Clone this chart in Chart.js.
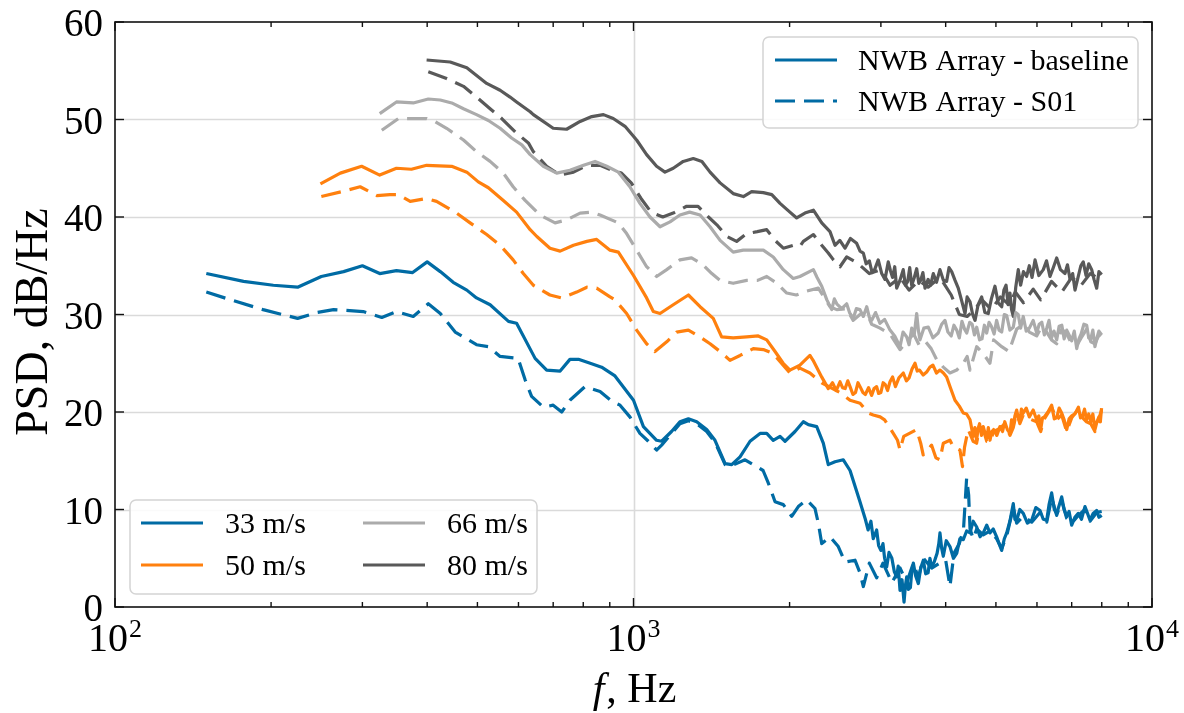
<!DOCTYPE html>
<html>
<head>
<meta charset="utf-8">
<script src="https://cdn.jsdelivr.net/npm/chart.js@4/dist/chart.umd.min.js"></script>
<style>
  html, body { margin: 0; padding: 0; background: #fff; }
</style>
</head>
<body>
<canvas id="psdChart" width="1184" height="713"></canvas>
<script>
// ============================================================================
// Data (frequency in Hz, PSD in dB/Hz)
// ============================================================================
const speedLabels = ['33 m/s', '50 m/s', '66 m/s', '80 m/s'];
const caseLabels = ['NWB Array - baseline', 'NWB Array - S01'];
const speedColors = ['#006BA4', '#FF800E', '#ABABAB', '#595959'];
const yTicks = [0, 10, 20, 30, 40, 50, 60];
const xMajorTicks = [100, 1000, 10000];
const xMinorTicks = [200, 300, 400, 500, 600, 700, 800, 900, 2000, 3000, 4000, 5000, 6000, 7000, 8000, 9000];

const f33Base = [150,177,202,225,250,276,300,324,349,375,400,424,449,477,498,529,574,595,646,680,722,754,783,825,868,921,1000,1045,1108,1133,1184,1229,1276,1324,1384,1436,1502,1547,1605,1678,1754,1807,1860,1917,1960,2049,2126,2174,2256,2323,2375,2447,2539,2616,
    2734,2800,2834,2870,2900,2944,2970,3000,3028,3050,3078,3110,3150,3185,3218,3240,3266,3295,3325,3345,3365,3390,3420,3440,3465,3500,3543,3580,3622,3660,3700,3730,3760,3800,3850,3880,3900,3930,3958,4010,4077,4140,4201,4260,4325,4390,4457,4520,4591,4660,4727,4800,4869,4940,5016,5070,5130,5190,5245,5320,5401,5440,5483,5560,5646,5750,5861,5970,6081,6170,6265,6330,6405,6480,6549,6620,6696,6770,6847,6920,7000,7100,7208,7310,7425,7510,7593,7700,7822,7900,7998];
const psd33Base = [34.2,33.4,33.0,32.8,33.9,34.4,35.0,34.2,34.5,34.3,35.4,34.4,33.3,32.5,31.7,31.0,29.3,29.1,25.5,24.3,24.2,25.4,25.4,25.0,24.6,23.7,21.2,18.5,17.1,17.0,18.0,19.0,19.3,19.0,18.2,17.1,14.7,14.6,15.4,17.0,17.8,17.8,17.1,17.5,17.0,18.0,19.0,18.7,18.5,16.8,14.6,14.9,15.1,14.0,
    10.8,9.0,7.9,8.8,7.0,7.9,6.3,5.8,6.5,5.0,4.1,5.6,5.0,3.6,3.1,4.2,1.7,2.8,0.5,2.2,3.1,1.8,2.0,3.6,4.5,3.2,2.4,4.0,4.8,3.4,3.5,5.0,4.1,4.6,5.5,6.5,7.6,6.0,5.2,6.8,6.2,5.0,5.5,7.0,6.9,7.8,7.6,8.8,8.2,7.2,7.6,8.4,7.6,8.0,7.2,6.5,5.8,7.0,7.6,8.8,10.6,9.0,8.9,10.0,9.6,8.6,8.9,10.2,9.9,9.0,8.9,10.5,11.7,10.0,9.6,10.4,11.3,10.0,9.3,9.8,8.4,9.2,9.6,9.0,10.3,9.6,8.9,9.6,9.9,9.2,9.4];

const f33S01 = [150,165,193,225,245,264,301,327,349,376,402,424,453,498,525,553,599,618,636,670,700,727,754,806,862,908,942,984,1029,1068,1108,1133,1184,1229,1276,1324,1384,1436,1502,1547,1641,1778,1820,1875,1945,2019,2079,2158,2239,2272,2307,2393,2483,2558,2674,2734,2775,2850,2944,3028,3150,3266,3365,3465,3543,3622,3760,3900,4000,4077,4150,4250,4330,4390,4430,4457,4520,4591,4727,4869,5016,5130,5245,5401,5483,5646,5861,6081,6265,6405,6549,6696,6847,7000,7208,7425,7593,7822,7998];
const psd33S01 = [32.3,31.6,30.5,29.6,30.2,30.5,30.3,29.7,30.3,29.8,31.1,30.1,28.2,26.9,26.7,25.7,25.5,23.3,21.6,20.5,20.7,20.0,21.2,22.6,22.1,21.1,20.7,19.5,17.8,17.0,16.1,16.6,17.8,18.8,19.1,18.8,18.0,16.9,14.6,14.5,15.1,14.0,12.7,10.8,10.5,9.3,10.3,11.0,10.1,8.6,6.5,7.2,6.2,4.6,4.8,3.5,2.1,4.5,3.0,4.5,2.5,4.0,2.5,4.5,3.0,5.0,4.0,4.5,4.8,2.1,5.5,6.5,8.0,13.2,11.5,8.0,7.0,8.0,7.4,7.8,7.0,6.0,7.3,10.2,8.6,9.3,8.7,9.7,8.7,11.2,9.4,10.9,9.1,8.6,9.4,10.0,8.8,9.7,9.8];

const f50Base = [249,272,299,324,349,373,399,446,477,502,525,561,595,632,651,690,722,766,813,849,901,935,1000,1060,1092,1125,1193,1276,1344,1425,1479,1557,1653,1740,1807,1875,1944,2003,2094,2189,2220,2306,
    2375,2420,2460,2502,2530,2560,2590,2616,2650,2680,2710,2735,2770,2800,2840,2879,2910,2944,2970,3000,3030,3060,3090,3124,3160,3200,3250,3314,3360,3400,3445,3491,3525,3560,3620,3676,3730,3780,3840,3900,3960,4017,4090,4169,4250,4325,4390,4457,4490,4520,4555,4589,4620,4650,4690,4727,4765,4800,4835,4870,4910,4950,5020,5090,5150,5200,5260,5322,5360,5400,5440,5483,5520,5560,5600,5646,5720,5800,5900,5990,6050,6100,6150,6200,6300,6403,6480,6550,6620,6696,6770,6847,6920,7000,7100,7212,7280,7350,7410,7477,7550,7620,7690,7762,7830,7900,7950,7993];
const psd50Base = [43.4,44.5,45.2,44.3,45.0,44.9,45.3,45.2,44.6,43.6,43.0,41.7,40.5,38.7,38.0,36.8,36.5,37.1,37.5,37.7,36.6,36.4,34.0,31.7,30.3,30.1,31.0,32.0,30.8,29.6,27.7,27.6,27.7,27.8,27.4,26.2,25.0,24.3,24.8,25.8,25.3,23.6,
    22.4,23.0,22.2,23.1,22.5,22.4,23.2,22.6,21.8,22.0,23.0,22.6,22.0,21.8,22.5,21.7,22.4,22.6,21.9,22.0,23.0,22.8,22.2,23.1,23.6,22.6,23.5,24.0,23.2,23.5,24.4,25.0,24.2,24.3,23.8,24.1,24.6,24.8,24.0,24.3,24.0,23.6,22.4,21.2,20.6,19.9,19.8,19.2,18.3,17.5,18.4,17.1,18.3,18.8,17.6,18.5,17.8,17.3,18.4,17.1,18.0,18.2,17.6,18.5,18.0,19.0,18.2,17.8,19.2,18.6,19.6,20.2,19.4,19.0,20.3,19.9,20.4,19.5,20.2,19.2,19.6,18.2,19.4,19.5,20.0,20.7,19.3,19.4,20.4,19.9,19.2,18.2,19.3,19.6,19.8,20.5,19.4,19.6,20.3,19.2,19.8,19.0,19.8,18.2,19.0,19.5,19.0,20.4];

const f50S01 = [250,274,297,320,339,352,371,399,417,456,484,521,553,586,613,641,690,727,777,813,849,901,921,970,1014,1060,1100,1159,1211,1276,1344,1405,1469,1535,1605,1702,1780,1860,1944,2003,2094,2189,2306,2400,2502,2616,2735,2836,2900,2990,3050,3170,3230,3266,3320,3516,3580,3620,3758,3830,3900,3958,4077,4140,4262,4310,4350,4420,4520,4589,4650,4727,4800,4870,4950,5090,5200,5322,5400,5483,5560,5646,5800,5990,6100,6200,6403,6550,6696,6847,7000,7212,7350,7477,7620,7762,7900,7993];
const psd50S01 = [42.1,42.6,43.1,42.2,42.3,42.3,41.6,41.9,41.6,40.4,39.4,38.2,37.1,35.6,34.2,33.0,32.0,31.7,32.3,32.8,32.7,31.8,31.5,30.1,28.4,27.0,26.2,27.2,28.2,28.4,27.7,27.0,26.2,25.3,25.8,26.5,26.4,26.0,24.8,24.0,24.5,24.0,23.0,22.5,22.0,21.2,20.9,19.9,19.7,19.5,19.2,17.8,17.1,16.1,17.5,18.2,16.8,15.6,16.6,15.3,15.1,16.8,17.1,16.4,16.1,14.4,16.4,18.2,17.0,16.8,18.5,18.2,17.0,16.9,18.0,18.3,18.8,17.6,18.4,20.0,18.8,19.7,19.3,19.0,18.0,19.3,20.5,19.2,19.7,18.0,19.4,20.3,19.4,19.0,18.8,18.0,19.3,20.2];

const f66Base = [324,349,376,402,424,446,470,498,525,553,582,609,632,670,711,754,801,843,888,935,984,1029,1076,1125,1176,1229,1283,1344,1405,1469,1557,1628,1702,1780,1860,1945,2033,2094,
    2223,2260,2307,2360,2412,2440,2466,2520,2577,2610,2653,2690,2734,2775,2817,2850,2880,2930,2988,3050,3124,3190,3266,3310,3365,3400,3440,3480,3517,3545,3569,3630,3703,3780,3870,3930,3988,4040,4100,4150,4201,4250,4300,4350,4392,4450,4500,4545,4591,4650,4700,4750,4798,4850,4900,4960,5016,5070,5130,5190,5245,5320,5401,5460,5520,5580,5646,5720,5800,5900,5992,6060,6130,6200,6265,6330,6400,6470,6549,6620,6700,6770,6847,6920,7000,7080,7158,7230,7300,7390,7482,7550,7620,7690,7762,7830,7900,7998];
const psd66Base = [50.6,51.8,51.7,52.1,52.0,51.7,51.1,50.5,49.9,49.1,48.1,47.4,46.4,45.2,44.5,44.8,45.3,45.7,45.2,44.6,43.1,41.4,40.0,39.0,39.5,40.2,40.5,40.2,39.0,37.6,36.4,36.6,36.6,36.6,35.9,34.6,33.7,33.9,
    34.6,33.8,32.9,31.5,30.5,31.6,31.1,30.6,31.1,30.2,29.6,30.6,30.5,29.8,30.8,29.7,29.4,30.2,29.1,29.5,28.4,27.8,26.7,28.2,27.7,26.9,28.6,28.0,30.1,28.3,27.4,28.6,28.7,27.6,28.1,29.0,29.4,28.2,27.8,28.9,28.4,27.6,29.3,28.5,28.1,29.2,29.0,27.9,28.7,27.4,27.5,28.9,28.1,29.2,28.8,28.0,29.4,28.4,28.2,30.0,29.9,28.4,28.7,30.2,30.0,28.6,29.8,28.3,28.6,29.4,28.1,29.0,29.2,27.9,28.6,29.4,27.6,28.3,27.4,28.8,28.9,27.5,28.4,27.9,27.3,28.3,26.5,27.5,28.0,29.0,28.9,27.6,27.5,28.4,26.7,27.6,28.3,27.9];

const f66S01 = [327,352,376,399,414,436,470,498,529,561,586,618,660,706,743,789,831,862,935,970,1014,1060,1108,1159,1229,1294,1355,1416,1469,1557,1653,1735,1807,1890,1975,2060,2158,2272,2393,2466,2577,2653,2734,2817,2880,2988,3124,3266,3365,3470,3560,3660,3750,3850,3958,4077,4201,4325,4400,4457,4591,4727,4869,4950,5130,5300,5483,5646,5800,5992,6130,6265,6400,6549,6700,6847,7000,7158,7300,7482,7620,7762,7900,7998];
const psd66S01 = [48.9,50.1,50.1,50.1,49.8,49.1,47.9,46.7,45.7,44.5,43.1,41.7,40.2,39.4,39.7,40.4,40.5,40.2,39.4,38.3,36.6,34.9,33.9,34.6,35.6,35.8,35.2,34.2,33.5,33.2,33.5,33.5,33.9,33.2,32.2,32.0,32.4,32.7,30.8,30.5,30.6,29.4,30.0,30.2,29.0,28.6,28.0,26.4,27.2,28.0,26.8,27.2,26.5,25.3,24.6,24.0,24.3,25.0,25.7,24.3,26.7,26.0,25.0,27.4,26.7,26.2,28.5,29.0,28.2,27.8,28.8,28.2,27.4,27.0,28.5,28.0,27.0,26.8,27.6,28.5,27.2,27.0,27.9,27.6];

const f80Base = [399,443,477,521,553,578,595,632,641,700,743,789,831,875,914,963,1014,1060,1108,1150,1193,1247,1304,1355,1405,1469,1557,1629,1690,1780,1848,1917,2003,2064,2141,2223,2307,2393,
    2447,2500,2558,2620,2694,2735,2775,2810,2850,2885,2923,2965,3011,3055,3100,3130,3160,3190,3218,3265,3313,3345,3380,3410,3440,3480,3517,3550,3580,3615,3650,3700,3740,3786,3840,3900,3960,4017,4060,4108,4170,4230,4290,4359,4400,4457,4510,4557,4620,4694,4760,4833,4900,4979,5050,5130,5180,5230,5280,5322,5360,5401,5460,5522,5580,5650,5731,5800,5870,5949,6050,6171,6260,6357,6450,6549,6660,6795,6870,6950,7030,7104,7200,7290,7369,7460,7550,7650,7730,7822,7900,7998];
const psd80Base = [56.1,55.9,55.3,53.7,53.0,52.3,51.8,50.8,50.5,49.1,49.0,49.8,50.3,50.5,50.1,49.3,47.9,46.4,45.2,44.6,45.0,45.7,46.0,45.7,44.6,43.5,42.4,42.1,42.6,42.5,42.3,41.4,40.5,39.9,40.4,40.7,39.4,38.5,
    37.1,37.6,36.8,37.8,37.3,36.5,36.3,35.2,35.5,34.3,34.7,35.6,34.2,33.6,35.4,34.5,33.8,34.9,32.7,33.5,34.6,33.0,33.4,34.8,33.0,33.8,34.7,33.2,33.5,34.3,32.7,33.6,33.0,34.2,33.3,34.6,33.5,33.4,34.8,34.4,33.5,32.7,31.5,30.1,31.8,31.3,30.0,29.4,31.0,31.8,30.2,30.1,31.6,32.9,31.2,30.8,32.5,33.0,31.0,32.2,30.5,29.8,32.8,34.6,33.0,34.4,33.9,35.0,33.8,35.6,34.0,34.6,35.5,33.9,34.8,35.8,34.6,34.2,35.1,33.6,34.2,32.5,33.8,35.0,35.4,34.0,35.2,34.6,33.6,32.7,34.4,34.1];

const f80S01 = [402,436,470,498,529,557,595,627,641,680,722,766,813,862,908,948,990,1034,1081,1139,1193,1266,1332,1395,1448,1515,1581,1653,1733,1807,1875,1945,2033,2094,2126,2223,2307,2375,2430,2502,2577,2700,2850,3000,3124,3266,3400,3550,3700,3900,4100,4250,4400,4550,4700,4900,5100,5300,5450,5650,5900,6100,6400,6700,7000,7300,7600,7998];
const psd80S01 = [54.9,54.2,53.4,52.3,51.1,50.1,48.6,47.6,46.7,45.2,44.3,44.6,45.3,45.3,44.8,44.5,43.5,41.9,40.5,40.0,40.4,41.1,41.1,40.0,39.2,38.0,37.5,38.3,38.5,38.7,37.6,36.8,37.1,37.0,37.5,38.2,37.1,36.3,35.6,34.9,35.9,35.3,34.2,34.6,33.0,33.8,32.5,33.5,32.8,33.8,32.0,30.0,29.8,30.5,31.5,30.5,31.8,31.0,32.3,31.2,32.6,31.5,33.4,32.3,33.8,33.0,34.2,33.5];

// ============================================================================
// Styling
// ============================================================================
const SERIF = "'Liberation Serif', 'Times New Roman', serif";
const DASH = [20, 9];
const LINE_W = 3.2;

function toPoints(freqs, values) {
    const n = Math.min(freqs.length, values.length);
    const pts = [];
    for (let i = 0; i < n; i++) pts.push({ x: freqs[i], y: values[i] });
    return pts;
}

function makeDataset(label, freqs, values, color, dashed) {
    return {
        label: label,
        data: toPoints(freqs, values),
        borderColor: color,
        borderWidth: LINE_W,
        borderDash: dashed ? DASH : [],
        borderJoinStyle: 'round',
        borderCapStyle: 'butt',
        pointRadius: 0,
        fill: false,
        tension: 0
    };
}

const datasets = [
    makeDataset('33 m/s baseline', f33Base, psd33Base, speedColors[0], false),
    makeDataset('33 m/s S01', f33S01, psd33S01, speedColors[0], true),
    makeDataset('50 m/s baseline', f50Base, psd50Base, speedColors[1], false),
    makeDataset('50 m/s S01', f50S01, psd50S01, speedColors[1], true),
    makeDataset('66 m/s baseline', f66Base, psd66Base, speedColors[2], false),
    makeDataset('66 m/s S01', f66S01, psd66S01, speedColors[2], true),
    makeDataset('80 m/s baseline', f80Base, psd80Base, speedColors[3], false),
    makeDataset('80 m/s S01', f80S01, psd80S01, speedColors[3], true)
];

// ============================================================================
// Axes decoration: grid, inward ticks, labels, legends
// ============================================================================
function drawLegendBox(ctx, x, y, w, h) {
    ctx.save();
    ctx.beginPath();
    ctx.roundRect(x, y, w, h, 6);
    ctx.fillStyle = 'rgba(255,255,255,0.85)';
    ctx.fill();
    ctx.strokeStyle = '#d4d4d4';
    ctx.lineWidth = 1.5;
    ctx.stroke();
    ctx.restore();
}

function drawHandle(ctx, x1, x2, y, color, dashed) {
    ctx.save();
    ctx.strokeStyle = color;
    ctx.lineWidth = LINE_W;
    ctx.setLineDash(dashed ? DASH : []);
    ctx.beginPath();
    ctx.moveTo(x1, y);
    ctx.lineTo(x2, y);
    ctx.stroke();
    ctx.restore();
}

const axesDecor = {
    id: 'axesDecor',
    beforeDatasetsDraw(chart) {
        const { ctx, chartArea: a, scales: { x, y } } = chart;
        ctx.save();
        ctx.strokeStyle = '#dadada';
        ctx.lineWidth = 1.6;
        yTicks.slice(1, -1).forEach(v => {
            const py = Math.round(y.getPixelForValue(v)) + 0.5;
            ctx.beginPath(); ctx.moveTo(a.left, py); ctx.lineTo(a.right, py); ctx.stroke();
        });
        xMajorTicks.slice(1, -1).forEach(v => {
            const px = Math.round(x.getPixelForValue(v)) + 0.5;
            ctx.beginPath(); ctx.moveTo(px, a.top); ctx.lineTo(px, a.bottom); ctx.stroke();
        });
        ctx.restore();
    },
    afterDraw(chart) {
        const { ctx, chartArea: a, scales: { x, y } } = chart;
        ctx.save();

        // frame
        ctx.strokeStyle = '#111';
        ctx.lineWidth = 1.6;
        ctx.strokeRect(a.left, a.top, a.right - a.left, a.bottom - a.top);

        // inward ticks on all sides
        ctx.lineWidth = 1.4;
        const tick = (x1, y1, x2, y2) => { ctx.beginPath(); ctx.moveTo(x1, y1); ctx.lineTo(x2, y2); ctx.stroke(); };
        xMajorTicks.forEach(v => {
            const px = x.getPixelForValue(v);
            tick(px, a.bottom, px, a.bottom - 9);
            tick(px, a.top, px, a.top + 9);
        });
        xMinorTicks.forEach(v => {
            const px = x.getPixelForValue(v);
            tick(px, a.bottom, px, a.bottom - 5);
            tick(px, a.top, px, a.top + 5);
        });
        yTicks.forEach(v => {
            const py = y.getPixelForValue(v);
            tick(a.left, py, a.left + 9, py);
            tick(a.right, py, a.right - 9, py);
        });

        // y tick labels
        ctx.fillStyle = '#000';
        ctx.font = '39px ' + SERIF;
        ctx.textAlign = 'right';
        ctx.textBaseline = 'alphabetic';
        yTicks.forEach(v => {
            ctx.fillText(String(v), a.left - 12, y.getPixelForValue(v) + 14);
        });

        // x tick labels as powers of ten
        ctx.textAlign = 'left';
        xMajorTicks.forEach(v => {
            const exp = String(Math.round(Math.log10(v)));
            ctx.font = '40px ' + SERIF;
            const w1 = ctx.measureText('10').width;
            ctx.font = '26px ' + SERIF;
            const w2 = ctx.measureText(exp).width;
            const start = x.getPixelForValue(v) - (w1 + 1 + w2) / 2;
            ctx.font = '40px ' + SERIF;
            ctx.fillText('10', start, a.bottom + 44);
            ctx.font = '26px ' + SERIF;
            ctx.fillText(exp, start + w1 + 1, a.bottom + 30);
        });

        // axis titles
        ctx.font = 'italic 42px ' + SERIF;
        const wf = ctx.measureText('f').width;
        ctx.font = '42px ' + SERIF;
        const wr = ctx.measureText(', Hz').width;
        const cx = (a.left + a.right) / 2;
        ctx.font = 'italic 42px ' + SERIF;
        ctx.fillText('f', cx - (wf + wr) / 2, 702);
        ctx.font = '42px ' + SERIF;
        ctx.fillText(', Hz', cx - (wf + wr) / 2 + wf + 2, 702);

        ctx.save();
        ctx.translate(35, 322);
        ctx.rotate(-Math.PI / 2);
        ctx.textAlign = 'center';
        ctx.textBaseline = 'middle';
        ctx.font = '46px ' + SERIF;
        ctx.fillText('PSD, dB/Hz', 0, 0);
        ctx.restore();

        // legend: line style (top right)
        drawLegendBox(ctx, 763, 37, 375, 91);
        drawHandle(ctx, 775, 837, 60, speedColors[0], false);
        drawHandle(ctx, 775, 837, 101, speedColors[0], true);
        ctx.fillStyle = '#000';
        ctx.font = '30px ' + SERIF;
        ctx.textAlign = 'left';
        ctx.textBaseline = 'alphabetic';
        ctx.fillText(caseLabels[0], 858, 70);
        ctx.fillText(caseLabels[1], 858, 111);

        // legend: speeds (bottom left, two columns)
        drawLegendBox(ctx, 130, 500, 407, 94);
        const cols = [[141, 203, 225], [363, 425, 447]];
        const rows = [[523, 533], [565, 575]];
        speedLabels.forEach((lab, i) => {
            const c = cols[Math.floor(i / 2)];
            const r = rows[i % 2];
            drawHandle(ctx, c[0], c[1], r[0], speedColors[i], false);
            ctx.fillStyle = '#000';
            ctx.font = '30px ' + SERIF;
            ctx.fillText(lab, c[2], r[1]);
        });

        ctx.restore();
    }
};

// ============================================================================
// Chart
// ============================================================================
new Chart(document.getElementById('psdChart').getContext('2d'), {
    type: 'line',
    data: { datasets: datasets },
    options: {
        responsive: false,
        animation: false,
        devicePixelRatio: 1,
        layout: { padding: { top: 22, right: 32, left: 0, bottom: 0 } },
        plugins: { legend: { display: false }, tooltip: { enabled: false } },
        scales: {
            x: {
                type: 'logarithmic',
                min: 100,
                max: 10000,
                ticks: { display: false },
                grid: { display: false },
                border: { display: false },
                afterFit: s => { s.height = 106; }
            },
            y: {
                min: 0,
                max: 60,
                ticks: { display: false, stepSize: 10 },
                grid: { display: false },
                border: { display: false },
                afterFit: s => { s.width = 115; }
            }
        }
    },
    plugins: [axesDecor]
});
</script>
</body>
</html>
